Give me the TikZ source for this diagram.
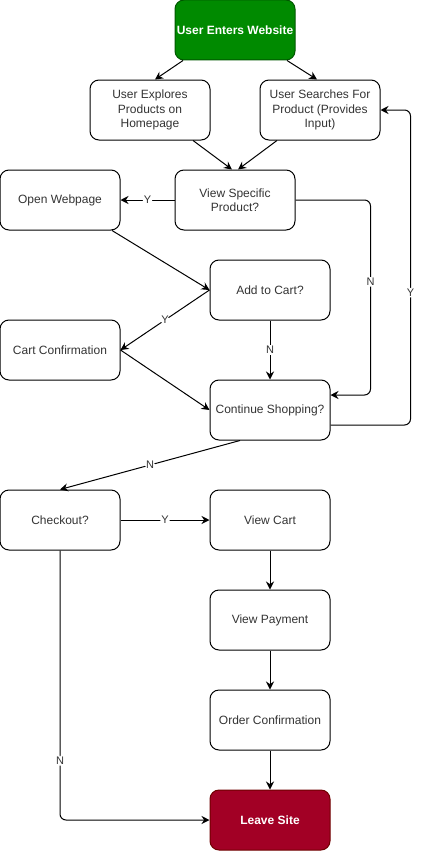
\documentclass[tikz,border=0pt]{standalone}
\usepackage{fontspec}
\setmainfont{Liberation Sans}
\usetikzlibrary{arrows.meta,calc}
\definecolor{entergreen}{HTML}{008A00}
\definecolor{enterline}{HTML}{005700}
\definecolor{leavered}{HTML}{A20025}
\definecolor{leaveline}{HTML}{6F0000}
\definecolor{txt}{HTML}{333333}
\begin{document}
\begin{tikzpicture}[x=1pt,y=-1pt]
\tikzstyle{box}=[draw, line width=1pt, rounded corners=9pt, minimum width=120pt, minimum height=60pt, align=center, text=txt, font=\fontsize{12}{14.5}\selectfont, inner sep=0pt]
\tikzstyle{flow}=[draw, line width=1pt, -{Stealth[length=8pt,width=8pt]}, rounded corners=6pt]
\tikzstyle{lbl}=[fill=white, inner sep=1pt, text=txt, font=\fontsize{11}{13}\selectfont]
\useasboundingbox (0,0) rectangle (421,851);
\node[box, fill=entergreen, draw=enterline, text=white, font=\fontsize{12}{14.5}\selectfont\bfseries] (enter) at (235,30) {User Enters Website};
\node[box] (explore) at (150,110) {User Explores\\Products on\\Homepage};
\node[box] (search) at (320,110) {User Searches For\\Product (Provides\\Input)};
\node[box] (vs) at (235,200) {View Specific\\Product?};
\node[box] (open) at (60,200) {Open Webpage};
\node[box] (add) at (270,290) {Add to Cart?};
\node[box] (cart) at (60,350) {Cart Confirmation};
\node[box] (cont) at (270,410) {Continue Shopping?};
\node[box] (check) at (60,520) {Checkout?};
\node[box] (vcart) at (270,520) {View Cart};
\node[box] (pay) at (270,620) {View Payment};
\node[box] (order) at (270,720) {Order Confirmation};
\node[box, fill=leavered, draw=leaveline, text=white, font=\fontsize{12}{14.5}\selectfont\bfseries] (leave) at (270,820) {Leave Site};
\draw[flow] ($(enter.south)+(-52,0)$) -- ($(explore.north)+(5,0)$);
\draw[flow] ($(enter.south)+(52,0)$) -- ($(search.north)+(-3,0)$);
\draw[flow] ($(explore.south)+(43,0)$) -- ($(vs.north)+(-3,0)$);
\draw[flow] ($(search.south)+(-43,0)$) -- ($(vs.north)+(3,0)$);
\draw[flow] (vs.west) -- node[lbl]{Y} (open.east);
\draw[flow] (vs.east) -| node[lbl,pos=0.71]{N} ($(cont.east)+(40,-15)$) -- ($(cont.east)+(0,-15)$);
\draw[flow] ($(cont.east)+(0,15)$) -| node[lbl,pos=0.71]{Y} ($(search.east)+(30,0)$) -- (search.east);
\draw[flow] ($(open.south)+(52,0)$) -- (add.west);
\draw[flow] (add.west) -- node[lbl]{Y} (cart.east);
\draw[flow] (cart.east) -- (cont.west);
\draw[flow] (add.south) -- node[lbl]{N} (cont.north);
\draw[flow] ($(cont.south)+(-30,0)$) -- node[lbl]{N} (check.north);
\draw[flow] (check.east) -- node[lbl]{Y} (vcart.west);
\draw[flow] (vcart.south) -- (pay.north);
\draw[flow] (pay.south) -- (order.north);
\draw[flow] (order.south) -- (leave.north);
\draw[flow] (check.south) |- node[lbl,pos=0.39]{N} (leave.west);
\end{tikzpicture}
\end{document}
